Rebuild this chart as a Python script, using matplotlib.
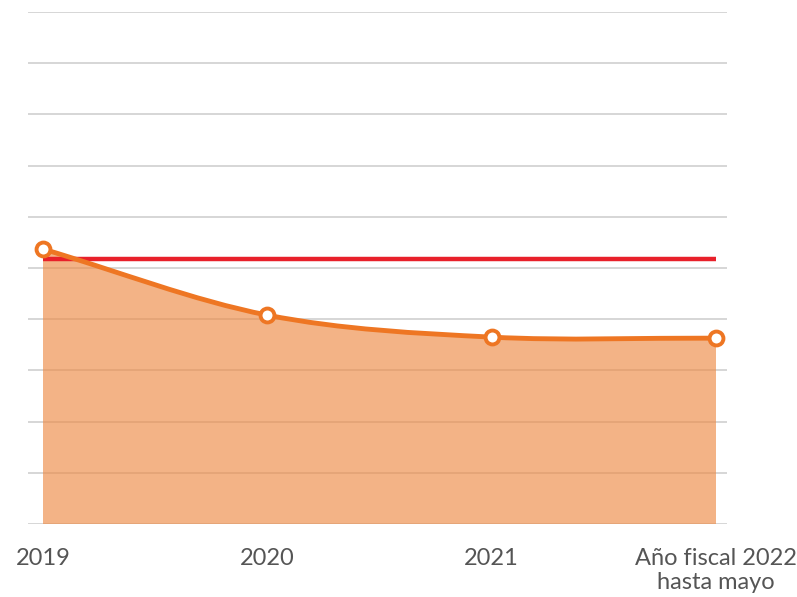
import matplotlib
matplotlib.use("Agg")
import matplotlib.pyplot as plt
from matplotlib.path import Path
from matplotlib.patches import PathPatch
import numpy as np

# datos (escala arbitraria 0-10, sin etiquetas en el eje y)
categorias = ["2019", "2020", "2021", "Año fiscal 2022\nhasta mayo"]
valores = [5.37, 4.08, 3.65, 3.63]
referencia = 5.18

naranja = "#EE7623"
rojo = "#E8202A"

fig = plt.figure(figsize=(7.97, 5.97), dpi=100)
ax = fig.add_axes([28 / 797, 1 - 524 / 597, (727 - 28) / 797, (524 - 12) / 597])

x = np.arange(len(valores))
y = np.array(valores)

# tangentes tipo catmull-rom para suavizar la linea
m = np.gradient(y, x)
m[0] = y[1] - y[0]
m[-1] = y[-1] - y[-2]

verts = [(x[0], y[0])]
codes = [Path.MOVETO]
for i in range(len(x) - 1):
    verts += [(x[i] + 1 / 3, y[i] + m[i] / 3),
              (x[i + 1] - 1 / 3, y[i + 1] - m[i + 1] / 3),
              (x[i + 1], y[i + 1])]
    codes += [Path.CURVE4] * 3

# area bajo la curva
area_verts = verts + [(x[-1], 0), (x[0], 0), (x[0], y[0])]
area_codes = codes + [Path.LINETO, Path.LINETO, Path.CLOSEPOLY]
ax.add_patch(PathPatch(Path(area_verts, area_codes), facecolor="#ED8A45",
                       alpha=0.65, edgecolor="none", zorder=2))

ax.plot([x[0], x[-1]], [referencia, referencia], color=rojo, lw=3.2, zorder=3,
        solid_capstyle="butt")

ax.add_patch(PathPatch(Path(verts, codes), facecolor="none", edgecolor=naranja,
                       lw=3.5, zorder=4))
ax.plot(x, y, "o", ms=10, mfc="white", mec=naranja, mew=2.8, zorder=5)

ax.set_xlim(-15 / 224.3, 3 + 11 / 224.3)
ax.set_ylim(0, 10)
ax.set_yticks(np.arange(0, 11, 1))
ax.yaxis.grid(True, color="#D3D3D3", lw=1.3)
ax.set_axisbelow(True)
ax.tick_params(axis="y", left=False, labelleft=False)
ax.tick_params(axis="x", length=0, pad=17)
ax.set_xticks(x)
ax.set_xticklabels(categorias, fontsize=17, color="#555555", family="Lato",
                   fontweight="normal", linespacing=1.2)
for s in ax.spines.values():
    s.set_visible(False)

fig.savefig("out.png", dpi=100)
